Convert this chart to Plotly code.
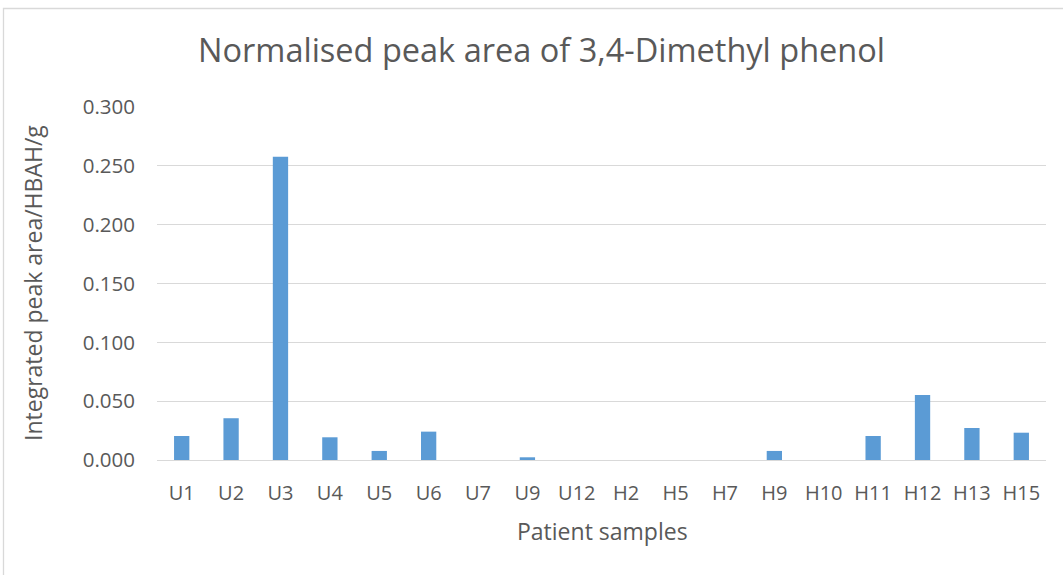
import plotly.graph_objects as go

categories = ["U1", "U2", "U3", "U4", "U5", "U6", "U7", "U9", "U12", "H2", "H5", "H7",
              "H9", "H10", "H11", "H12", "H13", "H15"]
values = [0.0204, 0.0355, 0.2577, 0.0193, 0.0077, 0.0241, 0.0, 0.0023, 0.0, 0.0, 0.0, 0.0,
          0.0077, 0.0, 0.0204, 0.0553, 0.0272, 0.0232]
y_ticks = [0.0, 0.05, 0.10, 0.15, 0.20, 0.25, 0.30]
y_tick_text = ["0.000", "0.050", "0.100", "0.150", "0.200", "0.250", "0.300"]

W, H = 1063, 575
L, R, T, B = 157, 17, 107, 115
pw, ph = W - L - R, H - T - B
base = H - B  # pixel of y=0


def px(x):
    return (x - L) / pw


def py(y):
    return (base - y) / ph


font_family = "Open Sans"
text_col = "#595959"

fig = go.Figure(go.Bar(x=categories, y=values, marker=dict(color="#5B9BD5", line=dict(width=0)),
                       hoverinfo="x+y"))

fig.update_layout(
    width=W, height=H,
    margin=dict(l=L, r=R, t=T, b=B, autoexpand=False),
    paper_bgcolor="white", plot_bgcolor="white",
    bargap=0.69,
    showlegend=False,
    font=dict(family=font_family, color=text_col, size=20),
    xaxis=dict(showgrid=False, showline=True, linecolor="#D9D9D9", linewidth=1.3,
               ticks="", tickfont=dict(size=20, color=text_col), ticklabelstandoff=15),
    yaxis=dict(range=[0, 0.3], tickvals=y_ticks, ticktext=y_tick_text, showgrid=True,
               gridcolor="#D9D9D9", gridwidth=1, zeroline=False, showline=False, ticks="",
               tickfont=dict(size=20.5, color=text_col), ticklabelstandoff=21),
    annotations=[
        dict(text="Normalised peak area of 3,4-Dimethyl phenol", xref="paper", yref="paper",
             x=px(541), y=py(50), xanchor="center", yanchor="middle",
             showarrow=False, font=dict(size=32.5, color=text_col, family=font_family)),
        dict(text="Integrated peak area/HBAH/g", xref="paper", yref="paper",
             x=px(33), y=py(283), xanchor="center", yanchor="middle",
             textangle=-90, showarrow=False, font=dict(size=23, color=text_col, family=font_family)),
        dict(text="Patient samples", xref="paper", yref="paper",
             x=px(602), y=py(531), xanchor="center", yanchor="middle",
             showarrow=False, font=dict(size=23, color=text_col, family=font_family)),
    ],
    shapes=[
        dict(type="rect", xref="paper", yref="paper", layer="below",
             x0=px(3.5), x1=px(1080), y0=py(600), y1=py(8.5),
             line=dict(color="#D9D9D9", width=1.3), fillcolor="rgba(0,0,0,0)"),
    ],
)

fig.write_html("out.html", config={"displayModeBar": False},
               post_script="document.body.style.margin='0px';")
